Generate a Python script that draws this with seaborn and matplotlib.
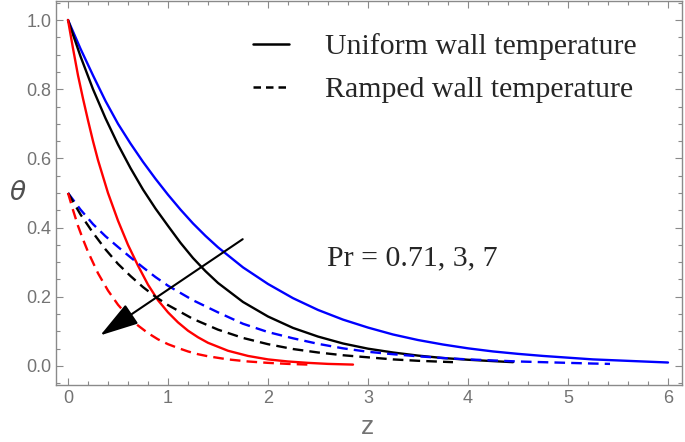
import numpy as np
import pandas as pd
import seaborn as sns
import matplotlib.pyplot as plt
from matplotlib.lines import Line2D
from matplotlib.ticker import MultipleLocator

# values
z_blue = [0, 0.125, 0.25, 0.375, 0.5, 0.625, 0.75, 0.875, 1.0, 1.125, 1.25, 1.375,
          1.5, 1.75, 2.0, 2.25, 2.5, 2.75, 3.0, 3.25, 3.5, 3.75, 4.0, 4.25, 4.5,
          4.75, 5.0, 5.25, 5.5, 5.75, 6.0]
uwt_blue = [1.000, 0.917, 0.840, 0.766, 0.700, 0.643, 0.590, 0.541, 0.495, 0.452,
            0.412, 0.376, 0.343, 0.285, 0.237, 0.196, 0.162, 0.134, 0.111, 0.091,
            0.075, 0.062, 0.051, 0.042, 0.035, 0.029, 0.024, 0.019, 0.016, 0.013,
            0.010]

z_black = [0, 0.125, 0.25, 0.375, 0.5, 0.625, 0.75, 0.875, 1.0, 1.125, 1.25, 1.375,
           1.5, 1.75, 2.0, 2.25, 2.5, 2.75, 3.0, 3.25, 3.5, 3.75, 4.0, 4.25, 4.45]
uwt_black = [1.000, 0.895, 0.800, 0.716, 0.640, 0.572, 0.510, 0.455, 0.405, 0.356,
             0.312, 0.274, 0.240, 0.185, 0.143, 0.110, 0.085, 0.065, 0.050, 0.039,
             0.030, 0.023, 0.018, 0.014, 0.011]

z_red = [0, 0.05, 0.1, 0.15, 0.2, 0.25, 0.3, 0.4, 0.5, 0.6, 0.7, 0.8, 0.9, 1.0, 1.1,
         1.2, 1.3, 1.4, 1.6, 1.8, 2.0, 2.2, 2.4, 2.6, 2.85]
uwt_red = [1.000, 0.918, 0.840, 0.773, 0.710, 0.650, 0.595, 0.500, 0.420, 0.350,
           0.290, 0.235, 0.190, 0.155, 0.126, 0.102, 0.083, 0.067, 0.044, 0.029,
           0.019, 0.013, 0.009, 0.006, 0.004]

zr_blue = [0, 0.125, 0.25, 0.375, 0.5, 0.625, 0.75, 0.875, 1.0, 1.25, 1.5, 1.75,
           2.0, 2.25, 2.5, 2.75, 3.0, 3.25, 3.5, 3.75, 4.0, 4.25, 4.5, 4.75, 5.0,
           5.25, 5.42]
rwt_blue = [0.500, 0.452, 0.410, 0.375, 0.344, 0.314, 0.285, 0.257, 0.232, 0.190,
            0.155, 0.122, 0.098, 0.080, 0.064, 0.051, 0.041, 0.034, 0.028, 0.023,
            0.019, 0.016, 0.013, 0.011, 0.009, 0.007, 0.006]

zr_black = [0, 0.125, 0.25, 0.375, 0.5, 0.625, 0.75, 0.875, 1.0, 1.25, 1.5, 1.75,
            2.0, 2.25, 2.5, 2.75, 3.0, 3.25, 3.5, 3.85]
rwt_black = [0.500, 0.438, 0.385, 0.337, 0.295, 0.260, 0.228, 0.200, 0.176, 0.136,
             0.105, 0.081, 0.063, 0.049, 0.039, 0.031, 0.025, 0.019, 0.015, 0.011]

zr_red = [0, 0.05, 0.1, 0.15, 0.2, 0.3, 0.4, 0.5, 0.6, 0.7, 0.8, 0.9, 1.0, 1.1, 1.2,
          1.3, 1.4, 1.6, 1.8, 2.0, 2.2, 2.4]
rwt_red = [0.500, 0.451, 0.405, 0.366, 0.330, 0.268, 0.218, 0.177, 0.144, 0.117,
           0.095, 0.077, 0.063, 0.052, 0.042, 0.034, 0.028, 0.019, 0.013, 0.009,
           0.006, 0.004]

sns.set_style("ticks")
plt.rcParams['font.family'] = ['Liberation Sans', 'DejaVu Sans']

gray = '#8a8a8a'
dash = (0, (4.5, 2.6))

fig = plt.figure(figsize=(6.85, 4.42), dpi=100)
ax = fig.add_axes([56 / 685, 1 - 385 / 442, 626 / 685, 384 / 442])

curves = [
    (z_blue, uwt_blue, 'blue', '-'),
    (z_black, uwt_black, 'black', '-'),
    (z_red, uwt_red, 'red', '-'),
    (zr_blue, rwt_blue, 'blue', dash),
    (zr_black, rwt_black, 'black', dash),
    (zr_red, rwt_red, 'red', dash),
]
for zz, th, c, ls in curves:
    df = pd.DataFrame({'z': zz, 'theta': th})
    sns.lineplot(data=df, x='z', y='theta', color=c, linestyle=ls, lw=1.7, ax=ax)

ax.set_xlim(-0.12, 6.14)
ax.set_ylim(-0.055, 1.055)
ax.xaxis.set_major_locator(MultipleLocator(1))
ax.xaxis.set_minor_locator(MultipleLocator(0.2))
ax.yaxis.set_major_locator(MultipleLocator(0.2))
ax.yaxis.set_minor_locator(MultipleLocator(0.05))
ax.set_yticks([0, 0.2, 0.4, 0.6, 0.8, 1.0])
ax.set_yticklabels(['0.0', '0.2', '0.4', '0.6', '0.8', '1.0'])
ax.tick_params(which='both', direction='in', top=True, right=True, color=gray,
               labelcolor='#737373', labelsize=13, width=0.8)
ax.tick_params(which='major', length=5)
ax.tick_params(which='minor', length=3)
for s in ax.spines.values():
    s.set_color(gray)
    s.set_linewidth(1.0)
ax.set_xlabel('')
ax.set_ylabel('')

fig.text(18 / 685, 1 - 193 / 442, r'$\theta$', fontsize=19, color='#505050',
         ha='center', va='center')
fig.text(367 / 685, 1 - 427 / 442, 'z', fontsize=19, color='#737373',
         ha='center', va='center')

ax.annotate('', xy=(0.30, 0.084), xytext=(1.77, 0.371),
            arrowprops=dict(arrowstyle='-|>,head_length=1.0,head_width=0.3',
                            color='black', lw=1.5, mutation_scale=24))

ax.text(2.59, 0.311, 'Pr = 0.71, 3, 7', fontsize=21.5, family='Liberation Serif',
        va='center', ha='left')

handles = [Line2D([], [], color='black', lw=1.8, ls='-'),
           Line2D([], [], color='black', lw=1.8, ls=(0, (3, 2)))]
leg = ax.legend(handles, ['Uniform wall temperature', 'Ramped wall temperature'],
                loc='upper left', bbox_to_anchor=(253 / 685, 1 - 33 / 442),
                bbox_transform=fig.transFigure, frameon=False,
                prop={'family': 'Liberation Serif', 'size': 21.5},
                handlelength=1.2, handletextpad=1.2, labelspacing=0.55,
                borderpad=0, borderaxespad=0)

fig.savefig('out.png', dpi=100)
